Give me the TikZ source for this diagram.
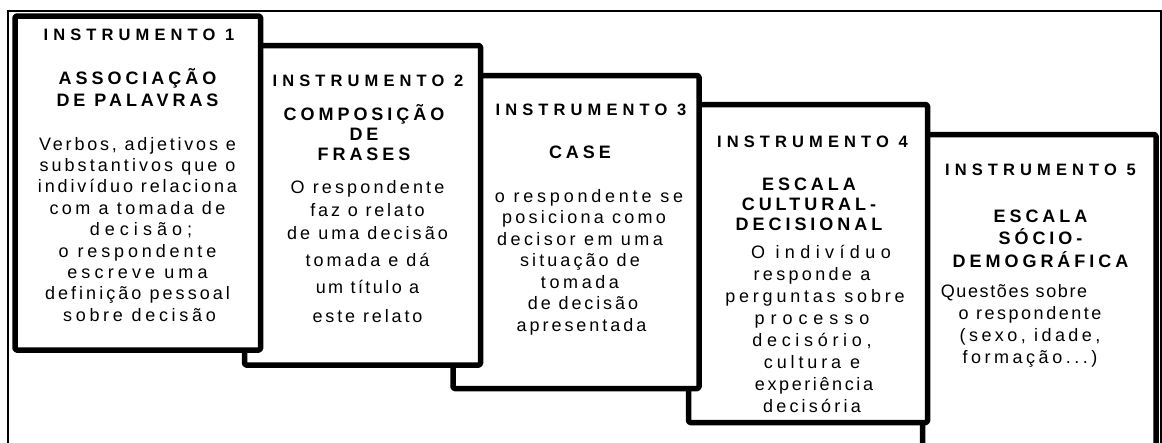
\documentclass[tikz,border=0pt]{standalone}
\usepackage{fontspec}
\setmainfont{Liberation Sans}
\newfontfamily\instfont{Liberation Sans}[LetterSpace=31]
\newfontfamily\headfont{Liberation Sans}[LetterSpace=22]
\newfontfamily\bodyfont{Liberation Sans}
\newcommand\lsp[2]{{\addfontfeature{LetterSpace=#1}#2}}
\tikzset{
  frame/.style={draw, line width=1.7pt},
  boxs/.style={draw, fill=white, line width=5.5pt, rounded corners=1.5pt, line join=round},
  inst/.style={font=\instfont\bfseries\fontsize{16.5}{19}\selectfont, anchor=base, inner sep=0pt},
  head/.style={font=\headfont\bfseries\fontsize{18}{20}\selectfont, align=center, anchor=base, inner sep=0pt},
  body/.style={font=\bodyfont\fontsize{18}{21.5}\selectfont, align=center, anchor=base, inner sep=0pt}
}
\begin{document}
\begin{tikzpicture}[x=1pt,y=-1pt]
\useasboundingbox (0,0) rectangle (1162,442);
\draw[frame] (8,10.8) rectangle (1160.8,480);
% boxes, back to front
\draw[boxs] (922.5,134.5) rectangle (1156,470);
\draw[boxs] (688.5,104.5) rectangle (927.5,422.5);
\draw[boxs] (453,75.5) rectangle (699,388.5);
\draw[boxs] (244.5,45.5) rectangle (480.5,365);
\draw[boxs] (15,16) rectangle (260.5,350);
% box 1 (multi-line nodes: base = last line's baseline)
\node[inst] (i1) at (139,40) {INSTRUMENTO 1};
\node[head, font=\headfont\bfseries\fontsize{18}{22}\selectfont] (h1) at (137.5,106.5) {ASSOCIAÇÃO\\DE PALAVRAS};
\node[body, font=\bodyfont\fontsize{18}{21.4}\selectfont] (t1) at (137.5,321.2) {\lsp{15.5}{Verbos, adjetivos e}\\\lsp{17}{substantivos que o}\\\lsp{16}{indivíduo relaciona}\\\lsp{18.5}{com a tomada de}\\\hspace*{7pt}\lsp{28}{decisão;}\\\lsp{21.5}{o respondente}\hspace*{16pt}\\\lsp{23}{escreve uma}\hspace*{10pt}\\\lsp{17}{definição pessoal}\\\hspace*{4pt}\lsp{20.5}{sobre decisão}};
% box 2
\node[inst] (i2) at (368,86) {INSTRUMENTO 2};
\node[head] (h2) at (364,160) {COMPOSIÇÃO\\DE\\FRASES};
\node[body] (t2) at (367.5,322) {\lsp{17.5}{O respondente}\\[1.5pt]\lsp{15.5}{faz o relato}\\[1.5pt]\lsp{17}{de uma decisão}\\[5.5pt]\lsp{16.5}{tomada e dá}\\[5.5pt]\lsp{13.5}{um título a}\\[7.5pt]\lsp{16}{este relato}};
% box 3
\node[inst] (i3) at (591,115) {INSTRUMENTO 3};
\node[head] (h3) at (580,158) {CASE};
\node[body] (t3) at (580,331) {\hspace*{18pt}\lsp{21}{o respondente se}\\\hspace*{8pt}\lsp{18}{posiciona como}\\\lsp{19}{decisor em uma}\hspace*{8pt}\\\lsp{17}{situação de}\\\lsp{20}{tomada}\\\hspace*{6pt}\lsp{16}{de decisão}\\\hspace*{3pt}\lsp{16.5}{apresentada}};
% box 4
\node[inst] (i4) at (812.5,147) {INSTRUMENTO 4};
\node[head] (h4) at (809,230) {ESCALA\\CULTURAL-\\DECISIONAL};
\node[body, font=\bodyfont\fontsize{18}{22}\selectfont] (t4) at (812,412) {\hspace*{18pt}\lsp{30}{O indivíduo}\\\lsp{18.5}{responde a}\\\hspace*{6pt}\lsp{21}{perguntas sobre}\\\lsp{33}{processo}\\\lsp{26}{decisório,}\\\lsp{21.5}{cultura e}\\\hspace*{4pt}\lsp{14.5}{experiência}\\\lsp{18}{decisória}};
% box 5
\node[inst] (i5) at (1040.5,175) {INSTRUMENTO 5};
\node[head, font=\headfont\bfseries\fontsize{18}{22.5}\selectfont] (h5) at (1040.5,267) {ESCALA\\SÓCIO-\\DEMOGRÁFICA};
\node[body, font=\bodyfont\fontsize{18}{22}\selectfont] (t5) at (1030,363) {\lsp{9}{Questões sobre}\hspace*{32pt}\\\lsp{14}{o respondente}\hspace*{16pt}\\\lsp{19}{(sexo, idade,}\\\lsp{19.5}{formação...)}};
\end{tikzpicture}
\end{document}
